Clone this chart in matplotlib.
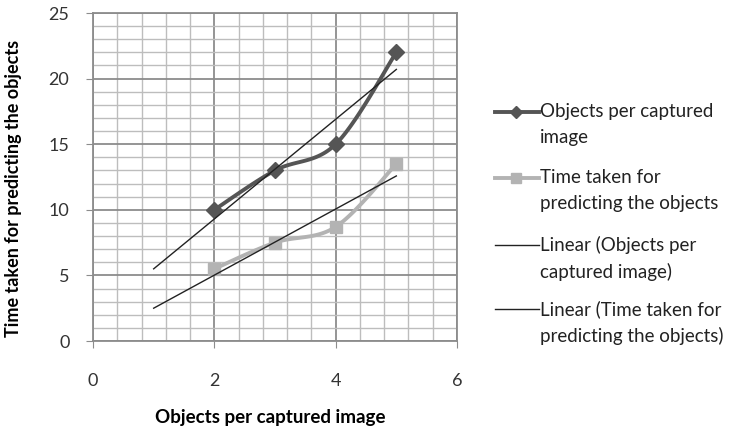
import numpy as np
import matplotlib.pyplot as plt
from matplotlib.lines import Line2D
from matplotlib.ticker import MultipleLocator

# measured values
x_vals = [2, 3, 4, 5]
objects_per_image = [10, 13, 15, 22]
prediction_time = [5.5, 7.5, 8.7, 13.5]

labels = ["Objects per captured\nimage",
          "Time taken for\npredicting the objects",
          "Linear (Objects per\ncaptured image)",
          "Linear (Time taken for\npredicting the objects)"]

plt.rcParams['font.family'] = ['Lato', 'DejaVu Sans']

W, H = 743, 434


def smooth(xs, ys, n=40):
    # cubic bezier through every point, like a spreadsheet "smoothed line"
    p = np.column_stack([xs, ys]).astype(float)
    p_ext = np.vstack([p[0], p, p[-1]])
    out = []
    for i in range(len(p) - 1):
        p0, p1, p2, p3 = p_ext[i], p_ext[i + 1], p_ext[i + 2], p_ext[i + 3]
        c1 = p1 + (p2 - p0) / 6
        c2 = p2 - (p3 - p1) / 6
        t = np.linspace(0, 1, n)[:, None]
        seg = ((1 - t) ** 3) * p1 + 3 * ((1 - t) ** 2) * t * c1 + 3 * (1 - t) * t ** 2 * c2 + t ** 3 * p2
        out.append(seg)
    seg = np.vstack(out)
    return seg[:, 0], seg[:, 1]


fig = plt.figure(figsize=(W / 100, H / 100), dpi=100)
ax = fig.add_axes([93 / W, 1 - 341 / H, 364 / W, 328 / H])

dark = '#555555'
light = '#b3b3b3'
trend = '#222222'

sx, sy = smooth(x_vals, objects_per_image)
ax.plot(sx, sy, color=dark, lw=2.8, zorder=4)
ax.plot(x_vals, objects_per_image, ls='none', marker='D', ms=8, color=dark, zorder=5)

sx, sy = smooth(x_vals, prediction_time)
ax.plot(sx, sy, color=light, lw=2.8, zorder=4)
ax.plot(x_vals, prediction_time, ls='none', marker='s', ms=9, color=light, zorder=5)

# linear trend lines, extended one unit backwards
xt = np.array([1, 5])
for ys in (objects_per_image, prediction_time):
    k, b = np.polyfit(x_vals, ys, 1)
    ax.plot(xt, k * xt + b, color=trend, lw=1.0, zorder=6)

ax.set_xlim(0, 6)
ax.set_ylim(0, 25)
ax.xaxis.set_major_locator(MultipleLocator(2))
ax.xaxis.set_minor_locator(MultipleLocator(0.4))
ax.yaxis.set_major_locator(MultipleLocator(5))
ax.yaxis.set_minor_locator(MultipleLocator(1))
ax.grid(which='major', color='#8c8c8c', lw=1.3)
ax.grid(which='minor', color='#bdbdbd', lw=1.0)
ax.set_axisbelow(True)
for s in ax.spines.values():
    s.set_color('#8c8c8c')
    s.set_linewidth(1.3)
ax.tick_params(which='major', length=5, color='#8c8c8c', labelsize=13, labelcolor='#333333')
ax.tick_params(axis='x', pad=18)
ax.tick_params(axis='y', pad=12)
ax.tick_params(which='minor', length=0)

ax.set_xlabel("Objects per captured image", fontsize=13.5, fontweight='bold')
ax.xaxis.set_label_coords(177 / 364, -(409 - 341) / 328)
ax.set_ylabel("Time taken for predicting the objects", fontsize=13, fontweight='bold')
ax.yaxis.set_label_coords(-(93 - 22) / 364, (341 - 188) / 328)

# legend drawn by hand so each handle sits on the first line of its label
handles = [
    dict(color=dark, lw=2.8, marker='D', ms=6),
    dict(color=light, lw=2.8, marker='s', ms=7),
    dict(color=trend, lw=1.0),
    dict(color=trend, lw=1.0),
]
first_line_y = [112, 178, 245, 309]
for y, style, text in zip(first_line_y, handles, labels):
    fy = 1 - y / H
    fig.add_artist(Line2D([495 / W, 539 / W], [fy, fy], transform=fig.transFigure,
                          color=style['color'], lw=style['lw']))
    if 'marker' in style:
        fig.add_artist(Line2D([516 / W], [fy], transform=fig.transFigure, ls='none',
                              marker=style['marker'], ms=style['ms'], color=style['color']))
    fig.text(540 / W, fy + 9 / H, text, fontsize=13.5, va='top', ha='left',
             color='#222222', linespacing=1.62)

fig.savefig('out.png', dpi=100)
